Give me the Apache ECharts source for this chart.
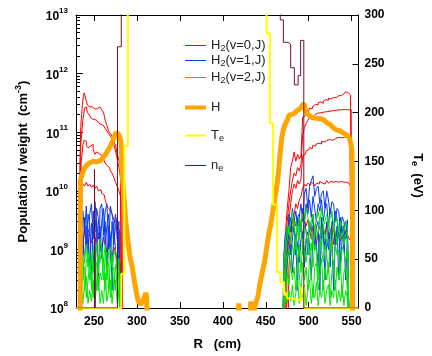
<!DOCTYPE html>
<html><head><meta charset="utf-8">
<script src="https://cdn.jsdelivr.net/npm/echarts@6/dist/echarts.min.js"></script>
<style>html,body{margin:0;padding:0;background:#fff}#c{width:432px;height:356px}</style>
</head><body><div id="c"></div>
<script>
// ---------- axes ----------
const xTicks = [250, 300, 350, 400, 450, 500, 550];
const yMinorTicks = [2e8,3e8,4e8,5e8,6e8,7e8,8e8,9e8, 2e9,3e9,4e9,5e9,6e9,7e9,8e9,9e9,
  2e10,3e10,4e10,5e10,6e10,7e10,8e10,9e10, 2e11,3e11,4e11,5e11,6e11,7e11,8e11,9e11,
  2e12,3e12,4e12,5e12,6e12,7e12,8e12,9e12];
const legendNames = ['H2(v=0,J)', 'H2(v=1,J)', 'H2(v=2,J)', 'H', 'Te', 'ne'];

// ---------- H2 populations, inner (left) region ----------
const rLeft = [232,234,236,238,240,242,244,246,248,250,252,254,256,258,260,262,264,266,268,270,272,274,276,278,280,282,284];
const v0Left1 = [[233,5e7],[234,3e10],[235,1.2e11],[236,2e11],[237,3e11],[238,4e11],[239,4.7e11],[240,4.2e11],[241,3.6e11],[242,3.2e11],[243,2.9e11],[244,3e11],[245,2.7e11],[246,2.8e11],[248,2.7e11],[250,2.5e11],[252,2.6e11],[254,2.5e11],[256,2.7e11],[258,2.6e11],[260,2.4e11],[262,2.2e11],[264,1.6e11],[266,1.3e11],[268,1.05e11],[270,9.5e10],[272,8.5e10],[274,7.2e10],[276,6e10],[278,4.3e10],[280,3.3e10],[281.5,2.8e10],[282,5e7]];
const v0Left2 = [[234,5e7],[235,6e10],[236,9e10],[238,1.6e11],[240,2.6e11],[241,2.7e11],[242,2.4e11],[244,2.1e11],[246,1.9e11],[248,1.7e11],[250,1.65e11],[252,1.6e11],[254,1.5e11],[256,1.45e11],[258,1.35e11],[260,1.3e11],[262,1.25e11],[264,1.15e11],[266,1.05e11],[268,9.5e10],[270,8.5e10],[272,7.5e10],[274,6.2e10],[276,4.8e10],[278,3.5e10],[280,2.5e10],[282,1.6e10],[283,1.3e10],[283.5,5e7]];
const v0Left3 = [[233,5e7],[234,8e9],[236,3e10],[238,6e10],[239,7.3e10],[240,7e10],[242,6e10],[244,5.4e10],[246,5.8e10],[248,6.2e10],[250,5e10],[252,4.2e10],[254,4.6e10],[256,4.3e10],[258,4e10],[260,3.8e10],[262,3.4e10],[264,3e10],[266,2.7e10],[268,2.5e10],[270,2.2e10],[272,2e10],[274,1.7e10],[276,1.4e10],[278,1.2e10],[280,1e10],[282,8e9],[283,5e7]];
const v0Left4 = [[234,5e7],[235,4e9],[236,1e10],[238,1.3e10],[240,1.2e10],[242,1.4e10],[244,1.2e10],[246,1.3e10],[248,1.15e10],[250,1.25e10],[252,1.1e10],[254,1.2e10],[256,1e10],[258,1.05e10],[260,9e9],[262,8.5e9],[264,7e9],[266,5.5e9],[268,5e9],[270,4.5e9],[272,4e9],[274,3.2e9],[276,3e9],[278,2.6e9],[280,2.2e9],[282,1.8e9],[283,5e7]];
const v0Left5 = [[234,5e7],[236,6e8],[238,1.2e9],[240,2e9],[242,1.5e9],[244,2.2e9],[246,1.8e9],[248,1.3e9],[250,2e9],[252,1.6e9],[254,1.2e9],[256,1.9e9],[258,1.4e9],[260,1e9],[262,1.6e9],[264,1.2e9],[266,8e8],[268,1.4e9],[270,1e9],[272,7e8],[274,1.1e9],[276,9e8],[278,6e8],[280,8e8],[282,5e8],[283,5e7]];
const v1Left1 = [5e7,5e7,1.2e9,4.5e9,2e9,5.5e9,8e8,4e9,6e9,1.5e9,6.5e9,3e9,2e8,5e9,6e9,1.8e9,4.5e9,6e9,1e9,5.5e9,4e9,2.5e9,4e9,1.5e9,3e9,5e7,5e7];
const v1Left2 = [5e7,5e7,3e9,8e8,3.5e9,1.2e9,4e9,2.5e9,3e8,4.5e9,2e9,5e9,3.5e9,9e8,3e9,5e9,1.2e9,2.5e9,4e9,6e8,3e9,1.2e9,2.5e9,3.5e9,8e8,5e7,5e7];
const v1Left3 = [5e7,5e7,2e9,1.5e9,6e8,2.5e9,1.8e9,5e8,2.8e9,1e9,2e8,3e9,1.5e9,2.5e9,7e8,2e9,3e9,5e8,2.5e9,1.8e9,2e8,2.5e9,1e9,5e8,2e9,5e7,5e7];
const v2Left1 = [5e7,5e7,1e9,3e8,8e8,1.2e9,5e8,9e8,2e8,1e9,7e8,1.3e9,4e8,1.5e9,1e9,6e8,1.2e9,3e8,9e8,1.1e9,5e8,8e8,1e9,3e8,7e8,5e7,5e7];
const v2Left2 = [5e7,5e7,5e8,8e8,2e8,6e8,9e8,3e8,7e8,4e8,1e9,2e8,8e8,6e8,1.1e9,3e8,7e8,9e8,2e8,6e8,8e8,2e8,5e8,7e8,3e8,5e7,5e7];
const v2Left3 = [5e7,5e7,1.5e8,4e8,5e8,1.5e8,3e8,6e8,4e8,1.5e8,5e8,6e8,2e8,4e8,3e8,7e8,2e8,5e8,6e8,1.5e8,4e8,5e8,2e8,4e8,1.5e8,5e7,5e7];
const v2Left4 = [5e7,5e7,3e8,1.2e8,2.5e8,3.5e8,1.2e8,2e8,1.3e8,3e8,1.2e8,2.5e8,3.5e8,1.2e8,2e8,1.2e8,4e8,1.3e8,2e8,3e8,1.2e8,2.5e8,3e8,1.2e8,2e8,5e7,5e7];

// ---------- H2 populations, outer (right) region ----------
const rRight = [470,472,474,476,478,480,482,484,486,488,490,492,494,496,498,500,502,504,506,508,510,512,514,516,518,520,522,524,526,528,530,532,534,536,538,540,542,544,546,548];
const v0Right1 = [[470,5e7],[472,5e8],[474,2e9],[476,5e9],[478,1e10],[480,2.5e10],[482,3.2e10],[484,4.6e10],[486,3.2e10],[488,4.2e10],[490,3.5e10],[492,4e10],[494,1.8e11],[496,1.9e11],[498,2.2e11],[500,2.3e11],[502,2.6e11],[504,2.5e11],[506,2.8e11],[508,3e11],[510,2.9e11],[512,3.2e11],[514,3.3e11],[516,3.1e11],[518,3.4e11],[520,3.6e11],[522,3.5e11],[524,3.8e11],[526,3.7e11],[528,3.9e11],[530,4.1e11],[532,3.9e11],[534,4.2e11],[536,4.4e11],[538,4.2e11],[540,4.5e11],[542,4.6e11],[544,4.9e11],[546,4.7e11],[548,4.5e11],[549.5,4.3e11],[550,5e7]];
const v0Right2 = [[472,5e7],[474,1e9],[476,3e9],[478,6e9],[480,1e10],[482,1.5e10],[484,2e10],[486,1.8e10],[488,2.5e10],[490,2.2e10],[492,2.8e10],[494,9e10],[496,1.2e11],[498,1.4e11],[500,1.6e11],[502,1.75e11],[504,1.85e11],[506,1.95e11],[508,2e11],[510,2.1e11],[514,2.15e11],[518,2.2e11],[522,2.25e11],[526,2.3e11],[530,2.35e11],[534,2.4e11],[538,2.4e11],[542,2.45e11],[546,2.4e11],[549.5,2.4e11],[550,5e7]];
const v0Right3 = [[474,5e7],[476,8e8],[478,3e9],[480,6e9],[482,1e10],[484,1.3e10],[486,1.1e10],[488,1.5e10],[490,1.3e10],[492,1.6e10],[494,4e10],[496,4.2e10],[498,4.8e10],[500,5e10],[502,5.5e10],[504,5.2e10],[506,6e10],[508,5.8e10],[510,6.3e10],[512,6.5e10],[514,6.3e10],[516,7e10],[518,6.8e10],[520,7.2e10],[522,7e10],[524,7.5e10],[526,7.3e10],[528,7.8e10],[530,7.5e10],[532,8e10],[534,7.8e10],[536,8.2e10],[538,8e10],[540,8.4e10],[542,8.2e10],[544,8.5e10],[546,8.3e10],[548,8.5e10],[549.5,8e10],[550,5e7]];
const v0Right4 = [[476,5e7],[478,5e8],[480,1.5e9],[482,3e9],[484,4e9],[486,6e9],[488,5e9],[490,7e9],[492,8e9],[494,1.1e10],[496,1.3e10],[498,1.2e10],[500,1.35e10],[502,1.25e10],[504,1.4e10],[506,1.3e10],[508,1.2e10],[510,1.35e10],[512,1.3e10],[514,1.45e10],[516,1.35e10],[518,1.3e10],[520,1.4e10],[522,1.5e10],[524,1.35e10],[526,1.45e10],[528,1.4e10],[530,1.5e10],[532,1.45e10],[534,1.4e10],[536,1.5e10],[538,1.45e10],[540,1.4e10],[542,1.5e10],[544,1.4e10],[546,1.35e10],[548,1.3e10],[549.5,1.2e10],[550,5e7]];
const v0Right5 = [[472,5e7],[474,3e8],[476,8e8],[478,1.5e9],[480,2.5e9],[482,2e9],[484,3e9],[486,2.5e9],[488,3.5e9],[490,2.8e9],[492,3e9],[494,3.5e9],[496,3e9],[498,2.5e9],[500,3.2e9],[502,2.2e9],[504,1.5e9],[506,2.5e9],[508,1.8e9],[510,1.2e9],[512,2e9],[514,2.5e9],[516,1.5e9],[518,2.2e9],[520,1.8e9],[522,2.8e9],[524,1.5e9],[526,2e9],[528,2.5e9],[530,1.2e9],[532,2e9],[534,1.6e9],[536,2.2e9],[538,1.4e9],[540,1.8e9],[542,2.2e9],[544,1.5e9],[546,1.8e9],[548,1.5e9],[549.5,1.4e9],[550,5e7]];
const v1Right1 = [5e7,8e8,2e9,1.2e9,4e9,2e9,5e9,3e9,4.5e9,2.5e9,3.5e9,6e9,3e9,9e9,1.1e10,5e9,1.2e10,1.5e10,1.8e10,8e9,1.1e10,1.2e10,6e9,9e9,1e10,5e9,1e10,7e9,4e9,6.5e9,6e9,3e9,5e9,4.5e9,2e9,3.6e9,3e9,1.5e9,3.2e9,5e7];
const v1Right2 = [5e7,3e8,1.2e9,2.5e9,1.5e9,3.5e9,2e9,3e9,8e8,3.5e9,4e9,2e9,5e9,3e9,6e9,4e9,7e9,3.5e9,8e9,5e9,3e9,6e9,4.5e9,7e9,3e9,5e9,6e9,2.5e9,5e9,4e9,2e9,4.5e9,3e9,2e9,3.5e9,1.5e9,2.5e9,3e9,1.5e9,5e7];
const v1Right3 = [5e7,1.5e8,6e8,1.2e9,2.5e9,8e8,1.5e9,2.5e9,1.2e9,2e8,2.5e9,3e9,1.5e9,3.5e9,2e9,8e8,3e9,2e9,4e9,1e9,2.5e9,3e9,2e8,3.5e9,2e9,1e9,3e9,2e9,5e8,3e9,2.5e9,1.2e9,2.5e9,3e8,2e9,2.5e9,1e9,2e9,2.5e9,5e7];
const v1Right4 = [5e7,1.2e8,3e8,6e8,1e9,1.5e9,4e8,1e9,1.8e9,1.2e9,6e8,1.5e9,2e9,5e8,1.5e9,2e9,1.2e9,3e8,1.8e9,2.2e9,1.2e9,5e8,1.8e9,1.5e9,2.5e9,3e8,1.5e9,1e9,2e9,1.5e9,2e8,1.8e9,1.2e9,2e9,6e8,1.5e9,1.8e9,3e8,1.5e9,5e7];
const v2Right1 = [5e7,5e8,1.5e9,2.5e9,1.8e9,3e9,4.5e9,2.5e9,3e9,2e9,3.5e9,2.5e9,4e9,3e9,5e9,3.5e9,2.5e9,3e9,4e9,2e9,3.5e9,4.5e9,3e9,5e9,2.5e9,3e9,4e9,2.5e9,3.5e9,4.5e9,2.5e9,3e9,3.5e9,2e9,3e9,2.5e9,2e9,3e9,2.5e9,5e7];
const v2Right2 = [5e7,2e8,8e8,1.5e9,2.5e9,1.2e9,2e9,3e9,1e9,2.5e9,1.5e9,3e9,8e8,2.5e9,2e9,1.2e9,3e9,2e9,1e9,2.5e9,1.5e9,2e9,3e9,1e9,2.5e9,1.8e9,1.2e9,3e9,2e9,1e9,2.5e9,2e9,1.2e9,2.5e9,1.5e9,2e9,1.2e9,1.8e9,2e9,5e7];
const v2Right3 = [5e7,1.5e8,4e8,8e8,1e9,5e8,1.2e9,8e8,1.5e9,6e8,1.2e9,4e8,1.5e9,1e9,6e8,1.5e9,8e8,1.3e9,5e8,1.2e9,9e8,3e8,1.4e9,1e9,6e8,1.2e9,8e8,4e8,1.3e9,9e8,5e8,1.2e9,8e8,1e9,4e8,1.1e9,9e8,6e8,1e9,5e7];
const v2Right4 = [5e7,1.1e8,2e8,4e8,2.5e8,6e8,3e8,5e8,2e8,7e8,4e8,1.5e8,6e8,3e8,5e8,2e8,7e8,4e8,1.5e8,5e8,6e8,2e8,4e8,7e8,2e8,5e8,3e8,6e8,1.5e8,4e8,6e8,2e8,5e8,3e8,6e8,1.5e8,4e8,5e8,2e8,5e7];
const v2Right5 = [5e7,1.05e8,1.5e8,1.2e8,2e8,1.3e8,2.5e8,1.1e8,1.8e8,3e8,1.2e8,2e8,1.5e8,2.5e8,1.1e8,2e8,3e8,1.2e8,2.2e8,1.5e8,2.8e8,1.1e8,2e8,1.5e8,3e8,1.2e8,2e8,2.5e8,1.1e8,2e8,1.5e8,3e8,1.2e8,2e8,1.3e8,2.5e8,1.1e8,2e8,1.5e8,5e7];

// ---------- atomic H density ----------
const hDensity = [[233.9,5e7],[234.2,1.5e10],[236,1.9e10],[238,2.3e10],[241,2.7e10],[245,3e10],[249,3.2e10],[253,3.1e10],[258,3.3e10],[262,3.9e10],[266,4.8e10],[269,5.8e10],[272,7.2e10],[275.4,9.8e10],[277,1e11],[278.5,9.4e10],[281,7.4e10],[282,5e10],[282.8,1.9e10],[284.7,8.5e9],[287,3e9],[289.4,1.4e9],[291.9,7.4e8],[294.5,5e8],[297.4,2.6e8],[299.5,1.8e8],[301.1,1.35e8],[304,1.15e8],[306.6,1.3e8],[308.5,1.5e8],[310.2,1.8e8],[311.3,1.6e8],[312,5e7],
  [417.5,5e7],[418.5,1.2e8],[419.5,1.2e8],[420.5,5e7],[431.5,5e7],[432.5,1.3e8],[433.5,1.3e8],[434.5,5e7],[436.5,5e7],[437.5,1.1e8],[439,1.15e8],[441.2,1.65e8],[443,2.5e8],[444.9,3.4e8],[446.5,4.5e8],[448.5,6e8],[450,8.5e8],[452.2,1.4e9],[454,2e9],[455.9,2.7e9],[457.5,3.8e9],[459.5,5.8e9],[461,8e9],[463.1,1.26e10],[465,2.2e10],[466.5,4e10],[468.6,8e10],[470.5,1.1e11],[472.4,1.35e11],[475,1.6e11],[477.1,1.95e11],[480,2e11],[483.3,2.1e11],[486,2.3e11],[488.8,2.45e11],[491.5,2.7e11],[494.3,3.1e11],[496,2.5e11],[497.9,2.1e11],[500,1.95e11],[503.4,1.8e11],[507,1.75e11],[511,1.72e11],[514.4,1.7e11],[518,1.6e11],[521.8,1.42e11],[525,1.35e11],[529,1.18e11],[532,1.1e11],[536.4,1.05e11],[540,9.8e10],[543.7,9.1e10],[547.3,8.1e10],[549,6.5e10],[550.3,4.8e10],[550.9,1.9e10],[551,1.2e8],[551.2,5e7]];

// ---------- Te and ne (right axis) ----------
const teProfile = [[229,0],[281.7,35],[285.3,166],[289.4,320],[451,281],[454.8,189],[458.4,106],[463.1,36.5],[466.9,26.5],[471.3,13],[473,16],[475,10],[478,8],[491.4,21],[494.6,0],[558,0]];
const neProfile = [[229,0],[250.5,142],[251.5,0],[277.3,267.5],[281.7,320],[466.9,295],[470.5,272],[476,270],[479,246],[483.3,228.5],[487.7,238],[490.6,274],[494.3,0],[558,0]];

// ---------- build ----------
const FONT = 'Liberation Sans';
const zip = (xs, ys) => xs.map((x, i) => [x, ys[i]]);
const COL = {v0: '#ff0000', v1: '#0a3cf0', v2: '#00e600', H: '#ffa500', Te: '#ffff00', ne: '#7a0a2e'};

function popLine(name, color, data, w) {
  return {type: 'line', name, data, xAxisIndex: 0, yAxisIndex: 0, symbol: 'none', step: 'middle',
    lineStyle: {color, width: w || 1}, itemStyle: {color}, silent: true};
}
const series = [];
[v0Left1, v0Left2, v0Left3, v0Left4, v0Left5, v0Right1, v0Right2, v0Right3, v0Right4, v0Right5]
  .forEach(d => series.push(popLine('H2(v=0,J)', COL.v0, d)));
[[rLeft, v1Left1], [rLeft, v1Left2], [rLeft, v1Left3], [rRight, v1Right1], [rRight, v1Right2], [rRight, v1Right3], [rRight, v1Right4]]
  .forEach(p => series.push(popLine('H2(v=1,J)', COL.v1, zip(p[0], p[1]))));
[[rLeft, v2Left1], [rLeft, v2Left2], [rLeft, v2Left3], [rLeft, v2Left4], [rRight, v2Right1], [rRight, v2Right2], [rRight, v2Right3], [rRight, v2Right4], [rRight, v2Right5]]
  .forEach(p => series.push(popLine('H2(v=2,J)', COL.v2, zip(p[0], p[1]))));
series.push({type: 'line', name: 'H', data: hDensity, yAxisIndex: 0, symbol: 'none',
  lineStyle: {color: COL.H, width: 5}, itemStyle: {color: COL.H}});
series.push({type: 'line', name: 'Te', data: teProfile, yAxisIndex: 2, symbol: 'none', step: 'end',
  lineStyle: {color: COL.Te, width: 2}, itemStyle: {color: COL.Te}});
series.push({type: 'line', name: 'ne', data: neProfile, yAxisIndex: 2, symbol: 'none', step: 'end',
  lineStyle: {color: COL.ne, width: 1}, itemStyle: {color: COL.ne}});

const legendRich = {
  n: {fontFamily: FONT, fontSize: 13, color: '#222', lineHeight: 16},
  s: {fontFamily: FONT, fontSize: 9, color: '#222', lineHeight: 10, verticalAlign: 'bottom'}
};
function legendFmt(name) {
  if (name.startsWith('H2')) return '{n|H}{s|2}{n|' + name.slice(2) + '}';
  if (name === 'Te') return '{n|T}{s|e}';
  if (name === 'ne') return '{n|n}{s|e}';
  return '{n|' + name + '}';
}
const legendTops = [39, 54, 71, 101, 129, 159];
const legendIconH = [1, 1, 1, 4, 2, 1];
const legends = legendNames.map((n, i) => ({
  data: [n], left: 185, top: legendTops[i], padding: 0, icon: 'rect', itemWidth: 21, itemHeight: legendIconH[i],
  selectedMode: false, formatter: legendFmt, textStyle: {rich: legendRich}
}));

const axisBlack = {show: true, onZero: false, lineStyle: {color: '#000', width: 1}};
const boldLbl = {fontFamily: FONT, fontSize: 12, fontWeight: 'bold', color: '#000'};

const option = {
  animation: false,
  backgroundColor: '#fff',
  textStyle: {fontFamily: FONT},
  grid: {left: 76, right: 56, top: 15, bottom: 43, containLabel: false},
  legend: legends,
  xAxis: [
    {type: 'value', min: 229, max: 558, position: 'bottom', axisLine: axisBlack,
      axisTick: {show: true, inside: true, length: 6, customValues: xTicks, lineStyle: {color: '#000'}},
      axisLabel: Object.assign({customValues: xTicks, margin: 8}, boldLbl),
      splitLine: {show: false},
      name: 'R   (cm)', nameLocation: 'middle', nameGap: 30,
      nameTextStyle: {fontFamily: FONT, fontSize: 13, fontWeight: 'bold', color: '#000'}},
    {type: 'value', min: 229, max: 558, position: 'top', axisLine: axisBlack,
      axisTick: {show: true, inside: true, length: 6, customValues: xTicks, lineStyle: {color: '#000'}},
      axisLabel: {show: false}, splitLine: {show: false}}
  ],
  yAxis: [
    {type: 'log', logBase: 10, min: 1e8, max: 1e13, position: 'left', axisLine: axisBlack,
      axisTick: {show: true, inside: true, length: 7, lineStyle: {color: '#000'}},
      axisLabel: {margin: 8, formatter: v => '{b|10}{s|' + Math.round(Math.log10(v)) + '}',
        rich: {b: Object.assign({padding: [4, 0, 0, 0]}, boldLbl),
               s: {fontFamily: FONT, fontSize: 8, fontWeight: 'bold', color: '#000', verticalAlign: 'top', lineHeight: 9}}},
      splitLine: {show: false}, minorTick: {show: false},
      name: '{n|Population / weight  (cm}{p|-3}{n|)}', nameLocation: 'middle', nameGap: 46, nameRotate: 90,
      nameTextStyle: {rich: {
        n: {fontFamily: FONT, fontSize: 13, fontWeight: 'bold', color: '#000', lineHeight: 16, verticalAlign: 'bottom'},
        p: {fontFamily: FONT, fontSize: 9, fontWeight: 'bold', color: '#000', lineHeight: 10, verticalAlign: 'top'}}}},
    {type: 'log', logBase: 10, min: 1e8, max: 1e13, position: 'left',
      axisLine: {show: false}, axisLabel: {show: false}, splitLine: {show: false},
      axisTick: {show: true, inside: true, length: 4, customValues: yMinorTicks, lineStyle: {color: '#000'}}},
    {type: 'value', min: 0, max: 300, interval: 50, position: 'right', axisLine: axisBlack,
      axisTick: {show: true, inside: true, length: 6, lineStyle: {color: '#000'}},
      axisLabel: Object.assign({margin: 6}, boldLbl), splitLine: {show: false},
      name: '{n|T}{s|e}{n|  (eV)}', nameLocation: 'middle', nameGap: 51, nameRotate: -90,
      nameTextStyle: {padding: [0, 0, 0, 28], rich: {
        n: {fontFamily: FONT, fontSize: 13, fontWeight: 'bold', color: '#000', lineHeight: 16},
        s: {fontFamily: FONT, fontSize: 9, fontWeight: 'bold', color: '#000', lineHeight: 10, verticalAlign: 'bottom'}}}}
  ],
  series
};
const chart = echarts.init(document.getElementById('c'), null, {renderer: 'canvas'});
chart.setOption(option);
</script></body></html>
